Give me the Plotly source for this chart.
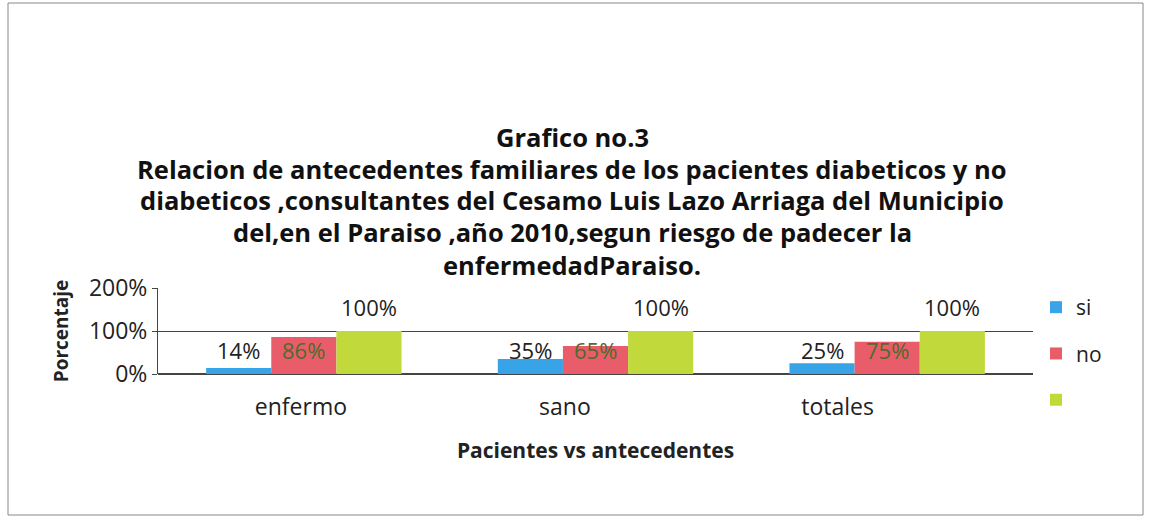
import plotly.graph_objects as go

categories = ["enfermo", "sano", "totales"]
si_vals = [0.14, 0.35, 0.25]
no_vals = [0.86, 0.65, 0.75]
tot_vals = [1.00, 1.00, 1.00]
si_labels = ["14%", "35%", "25%"]
no_labels = ["86%", "65%", "75%"]
tot_labels = ["100%", "100%", "100%"]
y_ticks = [0, 1, 2]
y_ticktext = ["0%", "100%", "200%"]
title_lines = [
    "Grafico no.3",
    "Relacion de antecedentes familiares de los pacientes diabeticos y no",
    "diabeticos ,consultantes del Cesamo Luis Lazo Arriaga del Municipio",
    "del,en el Paraiso ,año 2010,segun riesgo de padecer la",
    "enfermedadParaiso.",
]

FONT = "Open Sans, sans-serif"
W, H = 1149, 526
L, R, T, B = 158, 116, 288, 152
pw = W - L - R
ph = H - T - B

# style constants (label heights in axis units, tick label shifts in category units)
LOW_LABEL_Y = 0.56
HIGH_LABEL_Y = 1.56
TICK_SHIFT = [-0.01, -0.105, -0.17]

xs = list(range(len(categories)))

fig = go.Figure()
fig.add_trace(go.Bar(x=xs, y=si_vals, name="si", marker_color="#38a3e6", legendgroup="a"))
fig.add_trace(go.Bar(x=xs, y=no_vals, name="no", marker_color="#e85d69", legendgroup="b"))
fig.add_trace(go.Bar(x=xs, y=tot_vals, name=" ", marker_color="#c2d93c", legendgroup="c"))
fig.update_traces(marker_line_width=0)

annotations = []
ys = [137, 169, 200, 232, 265]
for line, yp in zip(title_lines, ys):
    annotations.append(dict(text="<b>%s</b>" % line, x=(572 - L) / pw, xref="paper",
                            y=(H - B - yp) / ph, yref="paper",
                            showarrow=False, xanchor="center", yanchor="middle",
                            font=dict(family=FONT, size=25.5, color="#111")))

bar_w = (1 - 0.33) / 3
for i in xs:
    for j, (labels, yv, col) in enumerate([(si_labels, LOW_LABEL_Y, "#222"),
                                           (no_labels, LOW_LABEL_Y, "#4f6b2e"),
                                           (tot_labels, HIGH_LABEL_Y, "#222")]):
        annotations.append(dict(text=labels[i], x=i + (j - 1) * bar_w, y=yv,
                                xref="x", yref="y", showarrow=False,
                                xanchor="center", yanchor="middle",
                                font=dict(family=FONT, size=22, color=col)))

fig.add_shape(type="rect", xref="paper", yref="paper",
              x0=(8 - L) / pw, x1=(1143 - L) / pw,
              y0=(H - B - 515) / ph, y1=(H - B - 3) / ph,
              line=dict(color="#888", width=1))

fig.update_layout(
    width=W, height=H,
    margin=dict(l=L, r=R, t=T, b=B, autoexpand=False),
    paper_bgcolor="white", plot_bgcolor="white",
    barmode="group", bargap=0.33, bargroupgap=0,
    font=dict(family=FONT, size=22, color="#222"),
    annotations=annotations,
    showlegend=True,
    legend=dict(x=(1036 - L) / pw, y=(H - B - 287) / ph, xanchor="left", yanchor="top",
                font=dict(size=21), itemwidth=30, tracegroupgap=16, maxheight=300,
                bgcolor="rgba(0,0,0,0)"),
    xaxis=dict(range=[-0.5, 2.5], tickvals=[x + s for x, s in zip(xs, TICK_SHIFT)],
               ticktext=categories, showline=False, ticks="", ticklabelstandoff=17,
               showgrid=False, zeroline=False, automargin=False,
               tickfont=dict(size=23),
               title=dict(text="<b>Pacientes vs antecedentes</b>", font=dict(size=21), standoff=22)),
    yaxis=dict(range=[0, 2], tickvals=y_ticks, ticktext=y_ticktext, automargin=False,
               showgrid=True, gridcolor="#444", gridwidth=1, tickfont=dict(size=23),
               showline=True, linecolor="#444", ticks="outside", ticklen=5, tickcolor="#444",
               zeroline=True, zerolinecolor="#444",
               title=dict(text="<b>Porcentaje</b>", font=dict(size=19), standoff=15)),
)

fig.write_html("out.html", config={"displayModeBar": False},
               post_script="document.body.style.margin='0';")
